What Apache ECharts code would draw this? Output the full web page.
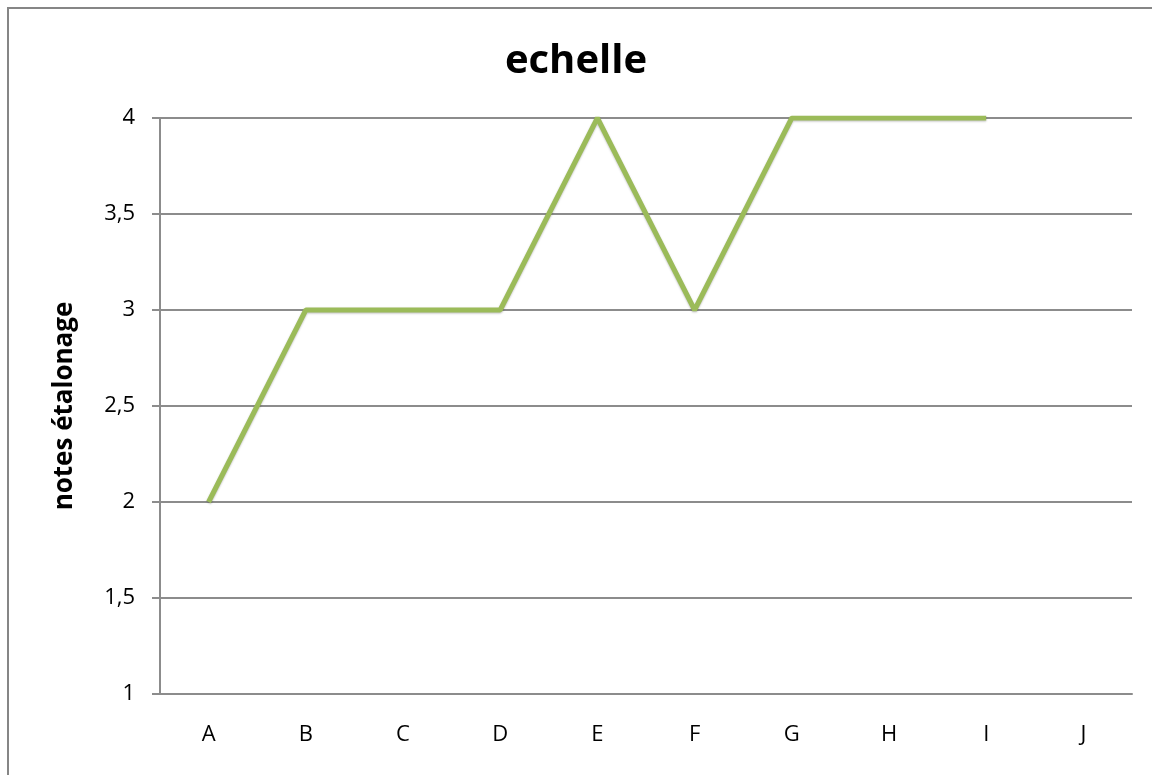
<!DOCTYPE html>
<html>
<head>
<meta charset="utf-8">
<script src="https://cdn.jsdelivr.net/npm/echarts@6/dist/echarts.min.js"></script>
<style>
  html, body { margin: 0; padding: 0; background: #fff; }
  #chart { width: 1152px; height: 775px; }
</style>
</head>
<body>
<div id="chart"></div>
<script>
const categories = ['A', 'B', 'C', 'D', 'E', 'F', 'G', 'H', 'I', 'J'];
const notes = [2, 3, 3, 3, 4, 3, 4, 4, 4, null];

const myChart = echarts.init(document.getElementById('chart'));
myChart.setOption({
  animation: false,
  textStyle: { fontFamily: 'Open Sans' },
  graphic: [{
    type: 'rect',
    shape: { x: 8, y: 8, width: 1170, height: 800 },
    style: { fill: 'none', stroke: '#868686', lineWidth: 2 }
  }],
  title: {
    text: 'echelle',
    left: 'center',
    top: 37,
    textStyle: { fontSize: 40, fontWeight: 'bold', color: '#000', fontFamily: 'Open Sans' }
  },
  grid: { left: 160, right: 20, top: 118, bottom: 81 },
  xAxis: {
    type: 'category',
    data: categories,
    boundaryGap: true,
    axisLine: { lineStyle: { color: '#8c8c8c', width: 2 } },
    axisTick: { show: false },
    axisLabel: { color: '#000', fontSize: 22, margin: 30 }
  },
  yAxis: {
    type: 'value',
    min: 1,
    max: 4,
    interval: 0.5,
    name: 'notes étalonage',
    nameLocation: 'middle',
    nameGap: 82,
    nameTextStyle: { fontSize: 26, fontWeight: 'bold', color: '#000' },
    axisLine: { show: true, lineStyle: { color: '#8c8c8c', width: 2 } },
    axisTick: { show: true, length: 8, lineStyle: { color: '#8c8c8c', width: 2 } },
    axisLabel: {
      color: '#000',
      fontSize: 22,
      margin: 25,
      formatter: v => String(v).replace('.', ',')
    },
    splitLine: { lineStyle: { color: '#8c8c8c', width: 2 } }
  },
  series: [{
    type: 'line',
    data: notes,
    symbol: 'none',
    lineStyle: { color: '#9bbb59', width: 5, shadowColor: 'rgba(0,0,0,0.25)', shadowBlur: 2, shadowOffsetY: 1 },
    itemStyle: { color: '#9bbb59' }
  }]
});
</script>
</body>
</html>
